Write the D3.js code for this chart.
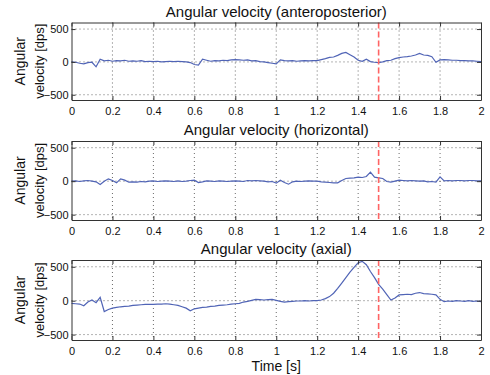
<!DOCTYPE html>
<html>
<head>
<meta charset="utf-8">
<script src="https://cdn.jsdelivr.net/npm/d3@7"></script>
<style>
  body { margin: 0; background: #fff; }
  svg text { font-family: "Liberation Sans", Arial, sans-serif; fill: #111; }
</style>
</head>
<body>
<div id="chart"></div>
<script>
// time samples [s]
const time = d3.range(0, 101).map(i => +(i * 0.02).toFixed(2));

const anteroposterior = [
  0, -5, -20, -30, -10, -5, -75, 40, 15, 25,
  10, 20, 15, 25, 10, 15, 10, 20, 5, 10,
  5, 10, 0, 5, 10, 5, 10, 5, 0, -10,
  -40, -50, 40, 25, 10, 20, 15, 25, 20, 30,
  35, 30, 25, 30, 15, 20, 5, 0, -10, -20,
  -30, 30, 20, 15, 20, 10, 15, 20, 15, 20,
  20, 35, 50, 70, 75, 100, 130, 145, 110, 75,
  25, 10, 40, 5, -5, -10, 0, 20, 25, 50,
  65, 75, 80, 90, 105, 130, 105, 100, 80, -5,
  30, 35, 30, 25, 25, 20, 20, 15, 15, 10,
  5
];

const horizontal = [
  0, 5, -5, 5, 10, 0, -10, -50, 0, 35,
  10, -25, 35, 15, -15, -10, -15, -5, -10, 0,
  5, -5, 0, 5, 0, -5, 5, -5, 0, 10,
  15, -20, -10, 5, 0, -5, 5, 0, -5, 0,
  5, 0, -5, 10, 5, 10, 5, 0, -10, -5,
  -30, 15, -20, -45, -10, 0, -5, 0, 5, 0,
  0, -10, -15, -20, -25, -25, 10, 40, 45, 50,
  60, 55, 70, 135, 60, 50, 40, -5, -15, 0,
  15, 10, 5, 10, 5, 0, 5, -10, -5, -15,
  65, 5, 10, 5, 10, 10, 5, 10, 10, 5,
  5
];

const axial = [
  -40, -45, -50, -75, -20, 10, -30, 50, -160, -130,
  -110, -100, -90, -85, -80, -70, -65, -60, -55, -55,
  -55, -50, -50, -45, -50, -60, -70, -90, -110, -150,
  -120, -110, -100, -95, -85, -80, -70, -65, -60, -50,
  -45, -40, -20, -10, 5, 20, 15, 10, 15, 20,
  5, -10, -20, -15, -10, -5, -5, 0, -5, 0,
  0, 10, 30, 60, 110, 180, 260, 340, 420, 490,
  560, 580, 530, 430, 340, 240, 170, 90, 10, 40,
  85, 90, 95, 90, 110, 120, 105, 100, 95, 85,
  20, -15, -5, -10, 0, -5, -10, 0, -10, -5,
  -15
];

const titles = [
  'Angular velocity (anteroposterior)',
  'Angular velocity (horizontal)',
  'Angular velocity (axial)'
];
const seriesList = [anteroposterior, horizontal, axial];
const xTicks = [0, 0.2, 0.4, 0.6, 0.8, 1, 1.2, 1.4, 1.6, 1.8, 2];
const yTicks = [-500, 0, 500];
const markerTime = 1.5;

const width = 490, height = 375;
const left = 71.5, right = 481;
const panels = [
  { top: 22.5, bottom: 100 },
  { top: 141, bottom: 220 },
  { top: 260, bottom: 340 }
];

const svg = d3.select('#chart').append('svg')
  .attr('width', width)
  .attr('height', height);

const x = d3.scaleLinear().domain([0, 2]).range([left, right]);

panels.forEach((p, k) => {
  const y = d3.scaleLinear().domain([-580, 600]).range([p.bottom, p.top]);
  const g = svg.append('g');

  // grid (dotted)
  g.selectAll('.vgrid')
    .data(xTicks.slice(1, -1))
    .enter().append('line')
    .attr('x1', d => x(d)).attr('x2', d => x(d))
    .attr('y1', p.top).attr('y2', p.bottom)
    .attr('stroke', '#444').attr('stroke-width', 0.8)
    .attr('stroke-dasharray', '1,3');
  g.selectAll('.hgrid')
    .data(yTicks)
    .enter().append('line')
    .attr('x1', left).attr('x2', right)
    .attr('y1', d => y(d)).attr('y2', d => y(d))
    .attr('stroke', '#444').attr('stroke-width', 0.8)
    .attr('stroke-dasharray', '1,3');

  // data line
  const line = d3.line()
    .x((d, i) => x(time[i]))
    .y(d => y(d));
  g.append('path')
    .datum(seriesList[k])
    .attr('fill', 'none')
    .attr('stroke', '#5064b6')
    .attr('stroke-width', 1.2)
    .attr('d', line);

  // marker at 1.5 s
  g.append('line')
    .attr('x1', x(markerTime)).attr('x2', x(markerTime))
    .attr('y1', p.top).attr('y2', p.bottom)
    .attr('stroke', '#ff6464').attr('stroke-width', 1.6)
    .attr('stroke-dasharray', '6,3');

  // axes with inward ticks, MATLAB style box
  const xb = d3.axisBottom(x).tickValues(xTicks).tickSizeInner(-4).tickSizeOuter(0).tickPadding(7)
    .tickFormat(d => String(d));
  const xt = d3.axisTop(x).tickValues(xTicks).tickSizeInner(-4).tickSizeOuter(0).tickFormat('');
  const yl = d3.axisLeft(y).tickValues(yTicks).tickSizeInner(-4).tickSizeOuter(0).tickPadding(3)
    .tickFormat(d => d < 0 ? '\u2212' + Math.abs(d) : String(d));
  const yr = d3.axisRight(y).tickValues(yTicks).tickSizeInner(-4).tickSizeOuter(0).tickFormat('');

  [[xb, `translate(0,${p.bottom})`], [xt, `translate(0,${p.top})`],
   [yl, `translate(${left},0)`], [yr, `translate(${right},0)`]].forEach(([ax, tr]) => {
    const a = g.append('g').attr('transform', tr).call(ax);
    a.select('.domain').attr('stroke', '#333').attr('stroke-width', 1);
    a.selectAll('.tick line').attr('stroke', '#333');
    a.selectAll('text').attr('font-size', 11).attr('fill', '#111')
      .attr('font-family', '"Liberation Sans", Arial, sans-serif');
  });

  // title
  svg.append('text')
    .attr('x', (left + right) / 2)
    .attr('y', p.top - 6)
    .attr('text-anchor', 'middle')
    .attr('font-size', 15)
    .text(titles[k]);

  // y label, two lines
  const cy = (p.top + p.bottom) / 2;
  svg.append('text')
    .attr('transform', `translate(25,${cy}) rotate(-90)`)
    .attr('text-anchor', 'middle')
    .attr('font-size', 14)
    .text('Angular');
  svg.append('text')
    .attr('transform', `translate(44,${cy}) rotate(-90)`)
    .attr('text-anchor', 'middle')
    .attr('font-size', 13)
    .text('velocity [dps]');
});

svg.append('text')
  .attr('x', (left + right) / 2)
  .attr('y', 371)
  .attr('text-anchor', 'middle')
  .attr('font-size', 14)
  .text('Time [s]');
</script>
</body>
</html>
